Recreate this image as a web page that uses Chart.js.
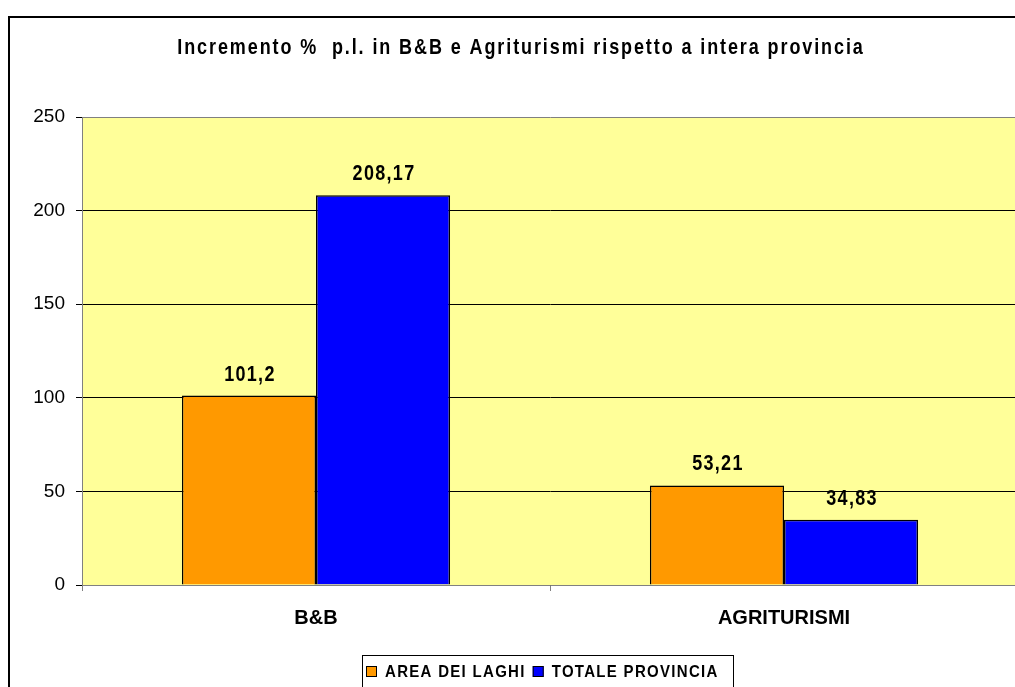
<!DOCTYPE html>
<html>
<head>
<meta charset="utf-8">
<script src="https://cdn.jsdelivr.net/npm/chart.js@4/dist/chart.umd.min.js"></script>
<style>
  html, body { margin: 0; padding: 0; background: #fff; overflow: hidden; }
  #wrap { width: 1040px; height: 700px; }
</style>
</head>
<body>
<div id="wrap"><canvas id="myChart" width="1040" height="700"></canvas></div>
<script>
const titleText = 'Incremento %  p.l. in B&B e Agriturismi rispetto a intera provincia';
const categories = ['B&B', 'AGRITURISMI'];
const seriesNames = ['AREA DEI LAGHI', 'TOTALE PROVINCIA'];
const areaLaghi = [101.2, 53.21];
const totaleProvincia = [208.17, 34.83];
const yTicks = [0, 50, 100, 150, 200, 250];
const colors = ['#FF9900', '#0000FF'];

const font = 'Liberation Sans, Arial, sans-serif';

// text a bit taller than wide, like the excel export
function tallText(c, txt, x, y, f, spacing, sy, align) {
  c.save();
  c.font = f;
  c.letterSpacing = spacing + 'px';
  c.textAlign = align;
  c.textBaseline = 'middle';
  c.translate(x, y);
  c.scale(1, sy);
  c.fillText(txt, 0, 0);
  const w = c.measureText(txt).width;
  c.restore();
  return w;
}

const decor = {
  id: 'decor',
  beforeDraw(chart) {
    const c = chart.ctx, a = chart.chartArea;
    c.save();
    c.fillStyle = '#fff';
    c.fillRect(0, 0, chart.width, chart.height);
    c.strokeStyle = '#000';
    c.lineWidth = 2;
    c.strokeRect(9, 17, 1022, 720);
    c.fillStyle = '#FFFF99';
    c.fillRect(a.left, a.top, a.right - a.left, a.bottom - a.top);
    c.fillStyle = '#000';
    tallText(c, titleText, 521, 48, 'bold 18px ' + font, 1.9, 1.2, 'center');
    c.restore();
  },
  afterDatasetsDraw(chart) {
    const c = chart.ctx;
    c.save();
    c.fillStyle = '#000';
    chart.data.datasets.forEach((ds, i) => {
      chart.getDatasetMeta(i).data.forEach((bar, j) => {
        const txt = String(ds.data[j]).replace('.', ',');
        tallText(c, txt, bar.x + 1, bar.y - 21, 'bold 18px ' + font, 1.3, 1.2, 'center');
      });
    });
    // legend
    const lx = 362, ly = 655;
    c.fillStyle = '#fff';
    c.fillRect(lx, ly, 372, 40);
    c.strokeStyle = '#000';
    c.lineWidth = 1;
    c.strokeRect(lx + 0.5, ly + 0.5, 371, 40);
    let x = lx + 4;
    chart.data.datasets.forEach((ds) => {
      c.fillStyle = ds.backgroundColor;
      c.fillRect(x, ly + 11, 11, 11);
      c.strokeStyle = '#000';
      c.strokeRect(x + 0.5, ly + 11.5, 10, 10);
      c.fillStyle = '#000';
      const w = tallText(c, ds.label, x + 19, ly + 17, 'bold 15px ' + font, 1.3, 1.15, 'left');
      x += 19 + w + 7;
    });
    c.restore();
  }
};

new Chart(document.getElementById('myChart'), {
  type: 'bar',
  data: {
    labels: categories,
    datasets: [
      { label: seriesNames[0], data: areaLaghi, backgroundColor: colors[0], borderColor: '#000', borderWidth: 1.5 },
      { label: seriesNames[1], data: totaleProvincia, backgroundColor: colors[1], borderColor: '#000', borderWidth: 1.5 }
    ]
  },
  options: {
    responsive: false,
    animation: false,
    categoryPercentage: 0.573,
    barPercentage: 1,
    layout: { padding: { top: 117, right: 22, left: 0, bottom: 0 } },
    plugins: { legend: { display: false }, title: { display: false }, tooltip: { enabled: false } },
    scales: {
      x: {
        afterFit(s) { s.height = 115; },
        grid: { offset: true, drawOnChartArea: false, color: '#808080', tickLength: 6 },
        border: { color: '#808080' },
        ticks: { color: '#000', font: { family: font, size: 20, weight: 'bold' }, padding: 15 }
      },
      y: {
        min: 0,
        max: 250,
        afterFit(s) { s.width = 82; },
        afterBuildTicks(s) { s.ticks = yTicks.map(v => ({ value: v })); },
        grid: {
          color: (ctx) => ctx.tick && ctx.tick.value === 250 ? '#808080' : '#000',
          tickColor: '#000',
          tickLength: 6
        },
        border: { color: '#808080' },
        ticks: { color: '#000', font: { family: font, size: 19 }, padding: 11 }
      }
    }
  },
  plugins: [decor]
});
</script>
</body>
</html>
